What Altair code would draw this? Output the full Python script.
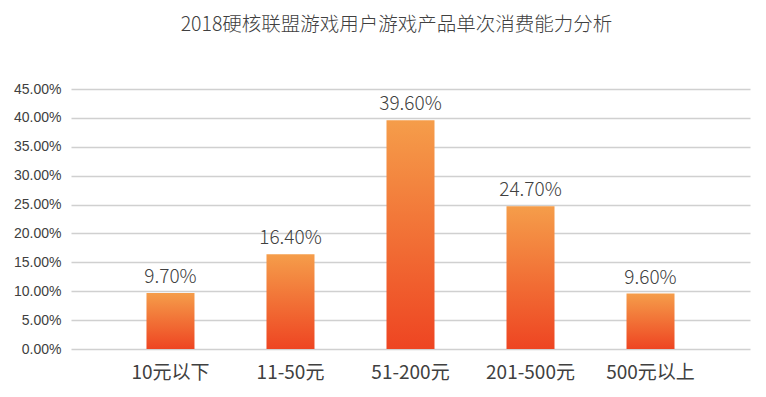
import altair as alt
import pandas as pd

categories = ["10元以下", "11-50元", "51-200元", "201-500元", "500元以上"]
values = [9.70, 16.40, 39.60, 24.70, 9.60]
labels = ["9.70%", "16.40%", "39.60%", "24.70%", "9.60%"]
y_ticks = [0, 5, 10, 15, 20, 25, 30, 35, 40, 45]

df = pd.DataFrame({"cat": categories, "val": values, "lab": labels})

cjk = "Noto Sans CJK SC"

x_axis = alt.Axis(
    title=None, labelAngle=0, labelFont=cjk, labelFontSize=19,
    labelColor="#404040", ticks=False, domain=False, labelPadding=14,
    grid=False,
)
y_axis = alt.Axis(
    title=None, values=y_ticks, labelExpr="format(datum.value/100, '.2%')",
    labelFont="Liberation Sans", labelFontSize=14, labelColor="#404040",
    ticks=False, domain=False, gridColor="#D0D0D0", gridWidth=1.3,
    labelPadding=10, labelOverlap=False,
)
x_scale = alt.Scale(paddingInner=0.6, paddingOuter=0.629)
y_scale = alt.Scale(domain=[0, 45], nice=False)

base = alt.Chart(df).encode(
    x=alt.X("cat:N", sort=categories, scale=x_scale, axis=x_axis),
    y=alt.Y("val:Q", scale=y_scale, axis=y_axis),
)

bars = base.mark_bar(
    fill=alt.Gradient(
        gradient="linear",
        stops=[alt.GradientStop(color="#F59D4A", offset=0),
               alt.GradientStop(color="#EE4522", offset=1)],
        x1=0, x2=0, y1=0, y2=1,
    )
)

text = base.mark_text(
    baseline="alphabetic", dy=-10, font=cjk, fontSize=19, color="#404040",
    fontWeight=300,
).encode(text="lab:N")

chart = (bars + text).properties(
    width=679,
    height=260,
    autosize=alt.AutoSizeParams(type="none"),
    padding={"left": 63, "top": 81, "right": 8, "bottom": 40},
    title=alt.TitleParams(
        "2018硬核联盟游戏用户游戏产品单次消费能力分析",
        font=cjk, fontSize=19.5, fontWeight=300, color="#404040",
        anchor="middle", offset=47, dx=-14,
    ),
).configure_view(stroke=None)

chart.save("out.html", embed_options={"renderer": "svg", "actions": False})
